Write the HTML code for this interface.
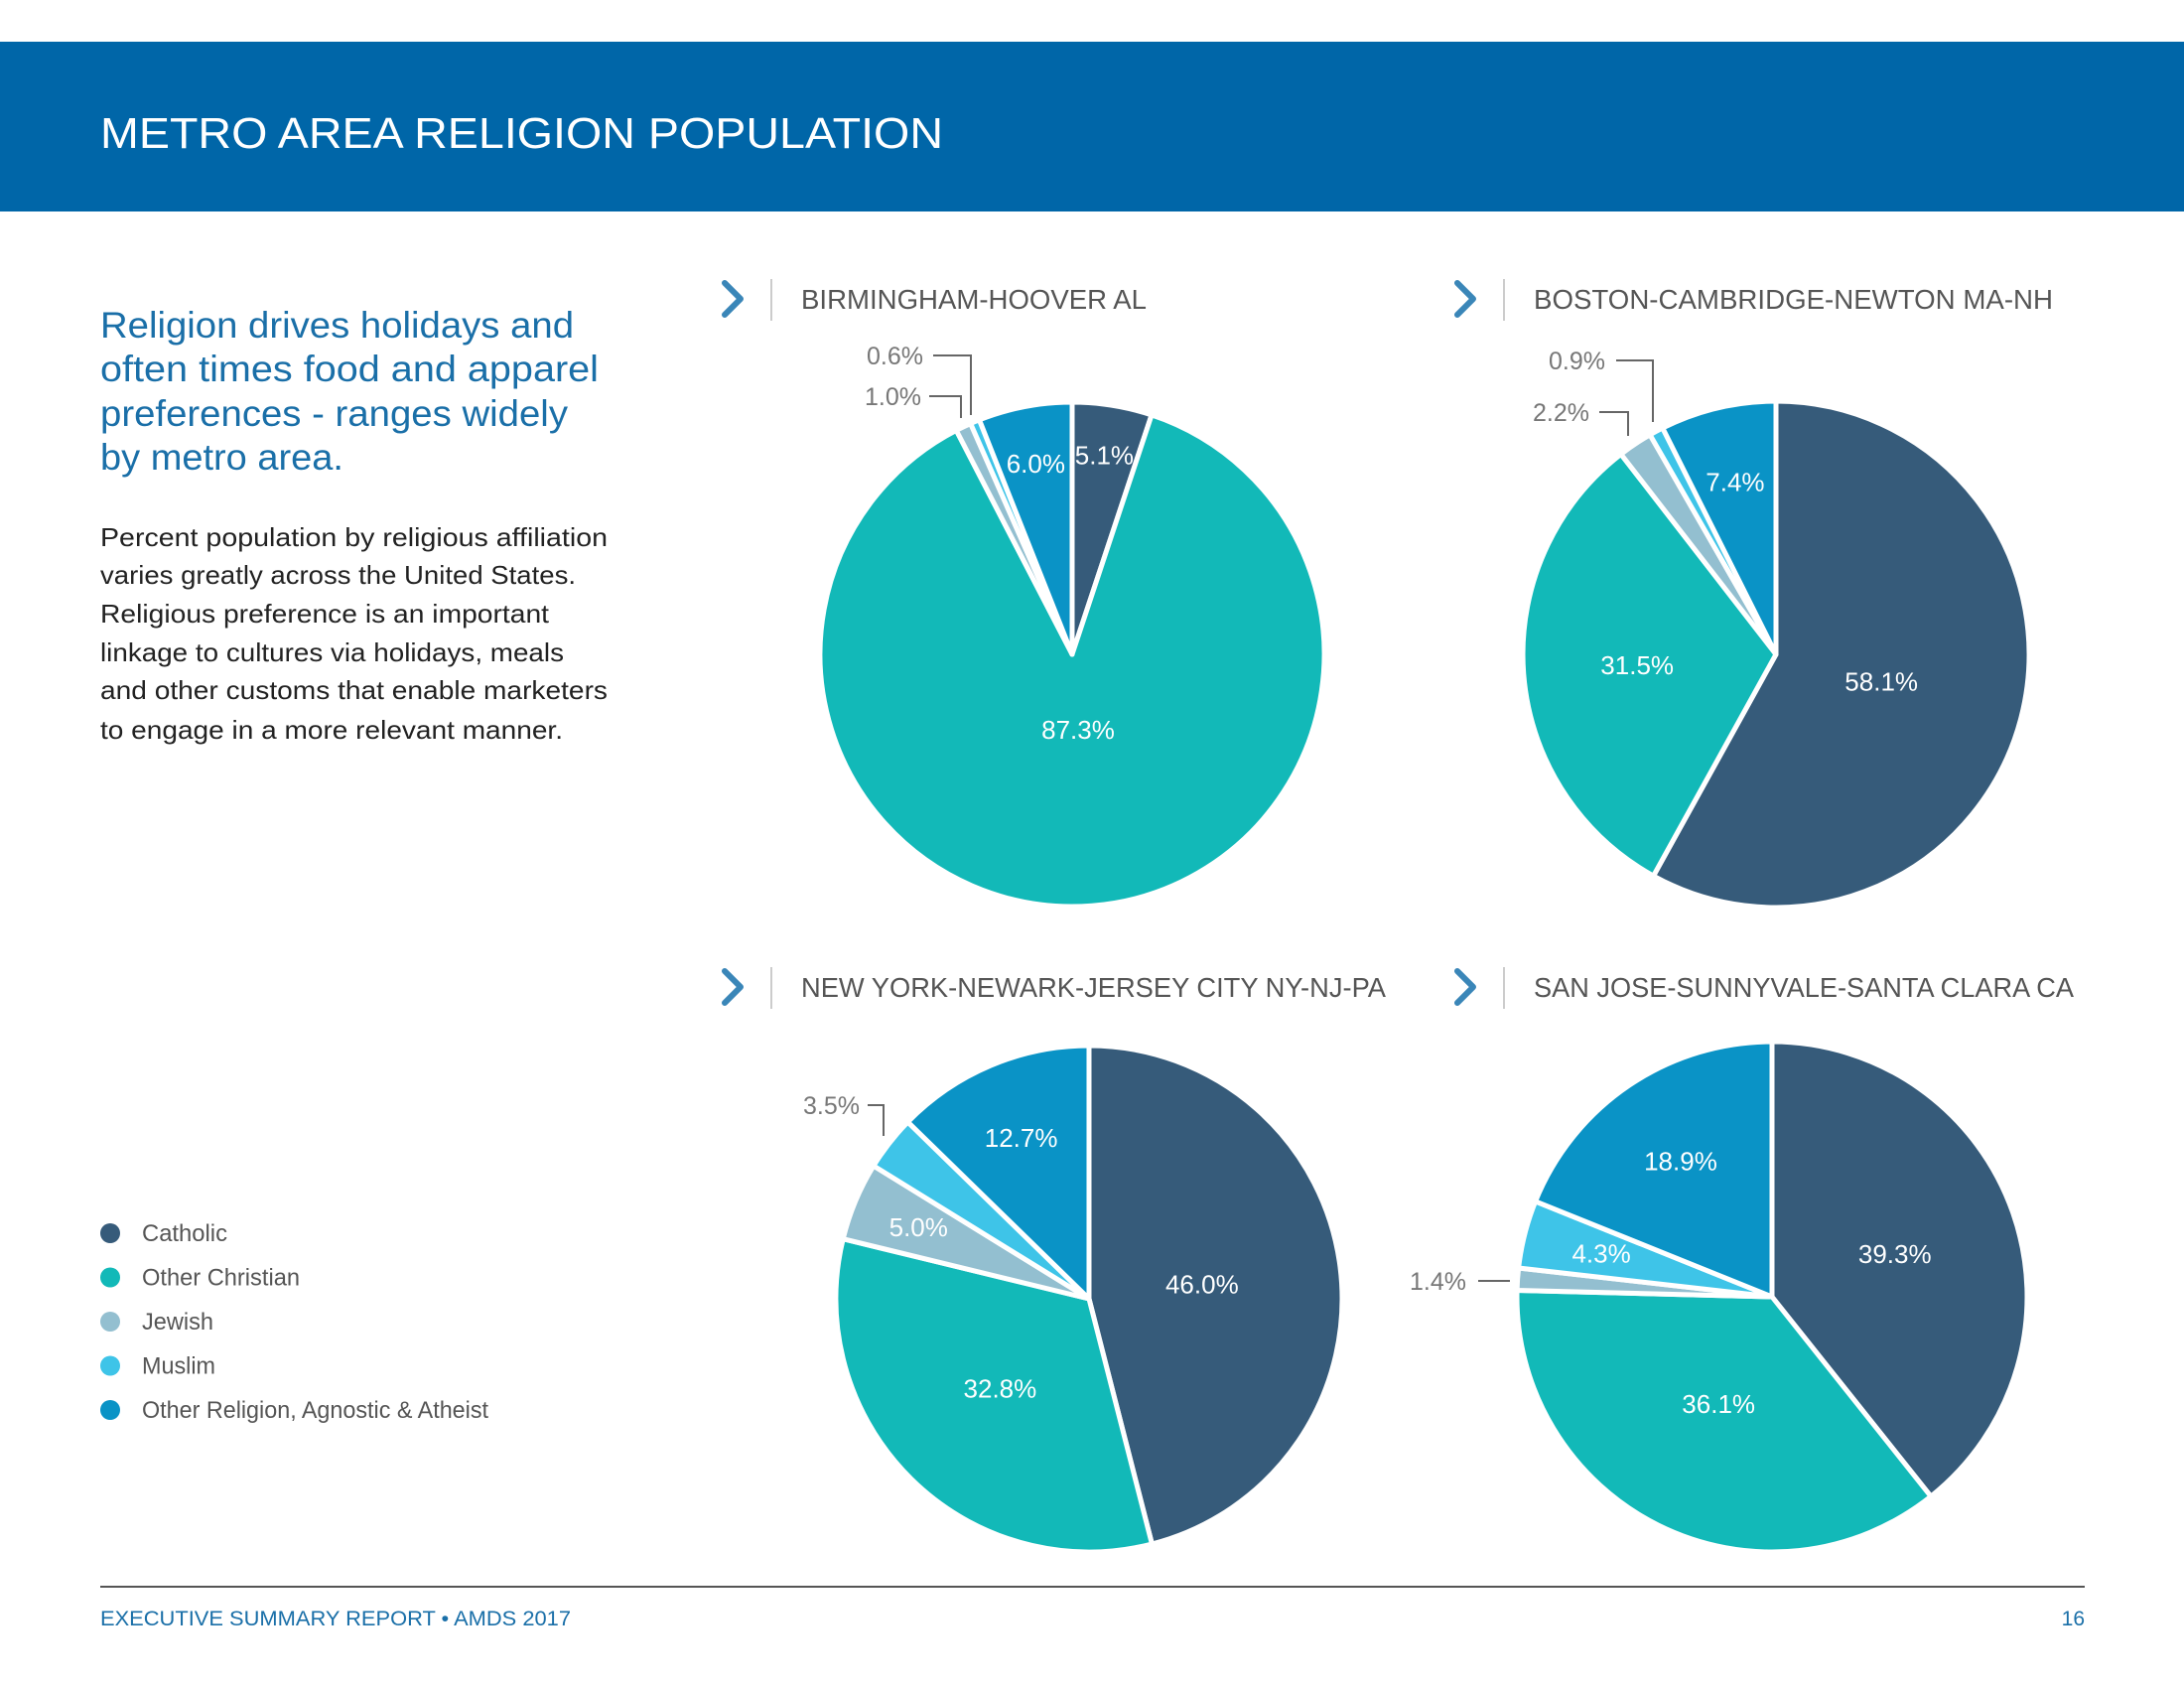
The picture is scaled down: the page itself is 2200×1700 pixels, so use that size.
<!DOCTYPE html>
<html><head><meta charset="utf-8"><style>
html,body{margin:0;padding:0;background:#fff;}
svg{display:block;font-family:"Liberation Sans",sans-serif;}
</style></head><body>
<svg id="page" width="2200" height="1700" viewBox="0 0 2200 1700" xmlns="http://www.w3.org/2000/svg">
<rect x="0" y="42" width="2200" height="171" fill="#0066a8"/>
<text x="101" y="149" font-size="44" fill="#fff" textLength="849" lengthAdjust="spacingAndGlyphs">METRO AREA RELIGION POPULATION</text>
<g fill="#1a6fa8" font-size="37">
<text x="101" y="340" textLength="477" lengthAdjust="spacingAndGlyphs">Religion drives holidays and</text>
<text x="101" y="384" textLength="502" lengthAdjust="spacingAndGlyphs">often times food and apparel</text>
<text x="101" y="429" textLength="471" lengthAdjust="spacingAndGlyphs">preferences - ranges widely</text>
<text x="101" y="473" textLength="245" lengthAdjust="spacingAndGlyphs">by metro area.</text>
</g>
<g fill="#222" font-size="26">
<text x="101" y="550" textLength="511" lengthAdjust="spacingAndGlyphs">Percent population by religious affiliation</text>
<text x="101" y="588" textLength="479" lengthAdjust="spacingAndGlyphs">varies greatly across the United States.</text>
<text x="101" y="627" textLength="452" lengthAdjust="spacingAndGlyphs">Religious preference is an important</text>
<text x="101" y="666" textLength="467" lengthAdjust="spacingAndGlyphs">linkage to cultures via holidays, meals</text>
<text x="101" y="704" textLength="511" lengthAdjust="spacingAndGlyphs">and other customs that enable marketers</text>
<text x="101" y="744" textLength="466" lengthAdjust="spacingAndGlyphs">to engage in a more relevant manner.</text>
</g>
<g id="charts"></g>
<g id="legend"></g>
<line x1="101" y1="1598" x2="2100" y2="1598" stroke="#555" stroke-width="2"/>
<text x="101" y="1637" font-size="21" fill="#1a6fa8" textLength="474" lengthAdjust="spacingAndGlyphs">EXECUTIVE SUMMARY REPORT • AMDS 2017</text>
<text x="2100" y="1637" font-size="21" fill="#1a6fa8" text-anchor="end">16</text>
</svg>
<script>
const categories = ["Catholic","Other Christian","Jewish","Muslim","Other Religion, Agnostic & Atheist"];
const metros = ["BIRMINGHAM-HOOVER AL","BOSTON-CAMBRIDGE-NEWTON MA-NH","NEW YORK-NEWARK-JERSEY CITY NY-NJ-PA","SAN JOSE-SUNNYVALE-SANTA CLARA CA"];
const birminghamValues = [5.1, 87.3, 1.0, 0.6, 6.0];
const bostonValues = [58.1, 31.5, 2.2, 0.9, 7.4];
const newYorkValues = [46.0, 32.8, 5.0, 3.5, 12.7];
const sanJoseValues = [39.3, 36.1, 1.4, 4.3, 18.9];
const seriesValues = [birminghamValues, bostonValues, newYorkValues, sanJoseValues];

const colors = ["#365b7a","#12b9b8","#93bfd0","#3ec4e8","#0a93c6"];
const layout = [
  {cx:1080, cy:659, r:254, tx:807, ty:311, tw:348, lf:[0.8,0.3,0,0,0.77],
   ext:[null,null,{tx:928,ty:399,pts:"936,399 968,399 968,421"},{tx:930,ty:358,pts:"940,358 978,358 978,418"},null]},
  {cx:1789, cy:659, r:255, tx:1545, ty:311, tw:523, lf:[0.43,0.55,0,0,0.7],
   ext:[null,null,{tx:1601,ty:415,pts:"1611,415 1640,415 1640,439"},{tx:1617,ty:363,pts:"1628,363 1665,363 1665,425"},null]},
  {cx:1097, cy:1308, r:255, tx:807, ty:1004, tw:589, lf:[0.45,0.5,0.73,0,0.69],
   ext:[null,null,null,{tx:866,ty:1113,pts:"874,1113 890,1113 890,1144"},null]},
  {cx:1785, cy:1306, r:257, tx:1545, ty:1004, tw:544, lf:[0.51,0.47,0,0.69,0.64],
   ext:[null,null,{tx:1477,ty:1290,pts:"1489,1290 1521,1290"},null,null]}
];
const NS="http://www.w3.org/2000/svg";
function mk(tag, attrs, parent){const e=document.createElementNS(NS,tag);for(const k in attrs)e.setAttribute(k,attrs[k]);parent.appendChild(e);return e;}
function angleScale(v,total){return v/total*Math.PI*2;}
function pt(cx,cy,r,a){return [cx+r*Math.sin(a), cy-r*Math.cos(a)];}
const charts=document.getElementById('charts');
seriesValues.forEach((vals,ci)=>{
  const L=layout[ci];
  const g=mk('g',{},charts);
  
  
  const top=L.ty-26;
  const chev=mk('polyline',{points:`${L.tx-77},${top} ${L.tx-61},${top+16} ${L.tx-77},${top+32}`,fill:'none',stroke:'#3a86b8','stroke-width':6,'stroke-linecap':'round','stroke-linejoin':'round'},g);
  
  
  const sep=mk('line',{x1:L.tx-30,y1:top-4,x2:L.tx-30,y2:top+38,stroke:'#ccc','stroke-width':2},g);
  
  
  const t=mk('text',{x:L.tx,y:L.ty,'font-size':28,fill:'#555',textLength:L.tw,lengthAdjust:'spacingAndGlyphs'},g);
  t.textContent=metros[ci];
  
  
  const total=vals.reduce((a,b)=>a+b,0);
  let a0=0;
  vals.forEach((v,i)=>{
    const a1=a0+angleScale(v,total);
    const p0=pt(L.cx,L.cy,L.r,a0), p1=pt(L.cx,L.cy,L.r,a1);
    const large=(a1-a0)>Math.PI?1:0;
    const s=mk('path',{d:`M${L.cx},${L.cy} L${p0[0]},${p0[1]} A${L.r},${L.r} 0 ${large} 1 ${p1[0]},${p1[1]} Z`,fill:colors[i],stroke:'#fff','stroke-width':5,'stroke-linejoin':'round'},g);
    
    
    const label=v.toFixed(1)+'%';
    if(L.lf[i]>0){
      const m=pt(L.cx,L.cy,L.r*L.lf[i],(a0+a1)/2);
      const lt=mk('text',{x:m[0],y:m[1]+9,'font-size':26,fill:'#fff','text-anchor':'middle'},g);
      lt.textContent=label;
      
      
    } else if(L.ext[i]){
      const E=L.ext[i];
      const lt=mk('text',{x:E.tx,y:E.ty+9,'font-size':25,fill:'#777','text-anchor':'end'},g);
      lt.textContent=label;
      
      
      const ll=mk('polyline',{points:E.pts,fill:'none',stroke:'#666','stroke-width':2},g);
      
      
    }
    a0=a1;
  });
});
const legend=document.getElementById('legend');


const legendWidths=[86,159,72,74,349];
categories.forEach((c,i)=>{
  const y=1242+i*44.5;
  const dot=mk('circle',{cx:111,cy:y,r:10,fill:colors[i]},legend);
  
  
  const tx=mk('text',{x:143,y:y+8,'font-size':24,fill:'#555',textLength:legendWidths[i],lengthAdjust:'spacingAndGlyphs'},legend);
  tx.textContent=c;
  
  
});
</script>
</body></html>
